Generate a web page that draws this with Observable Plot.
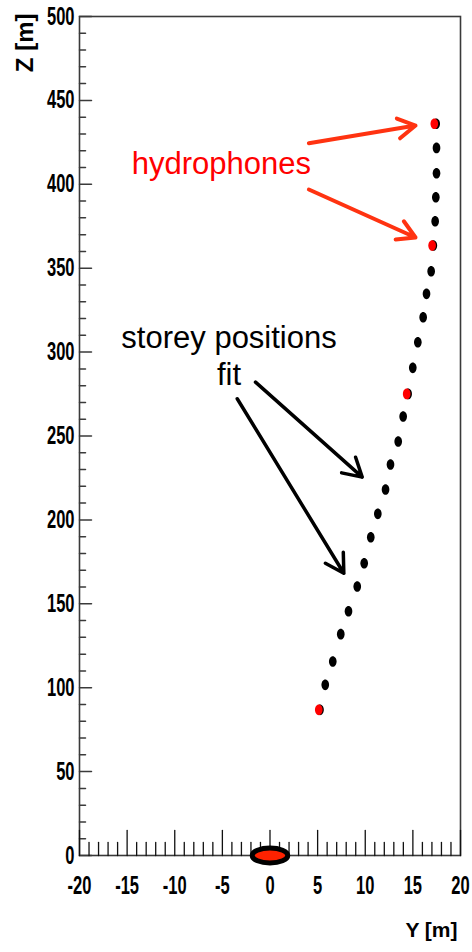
<!DOCTYPE html>
<html>
<head>
<meta charset="utf-8">
<script src="https://cdn.jsdelivr.net/npm/d3@7"></script>
<script src="https://cdn.jsdelivr.net/npm/@observablehq/plot@0.6"></script>
<style>
  html, body { margin: 0; padding: 0; background: #fff; }
  #chart svg { display: block; }
</style>
</head>
<body>
<div id="chart"></div>
<script>
// Line shape: fitted storey positions (Y, Z in metres), bottom to top
const storeyY = [5.25, 5.80, 6.59, 7.43, 8.24, 9.16, 9.89, 10.58, 11.32, 12.13, 12.65, 13.46, 13.98,
                 14.50, 14.99, 15.52, 16.08, 16.43, 16.92, 17.15, 17.34, 17.41, 17.48, 17.48, 17.45];
const storeyZ = [86.8, 101.7, 115.6, 131.9, 145.6, 160.3, 174.2, 189.7, 203.6, 218.1, 233.0, 246.7, 261.6,
                 275.1, 290.6, 305.9, 320.8, 334.7, 348.2, 363.5, 378.0, 392.3, 406.6, 421.7, 436.1];

// Measured hydrophone positions
const hydroY = [5.12, 14.35, 17.02, 17.25];
const hydroZ = [86.8, 275.1, 363.5, 436.1];

// Line anchor on the sea bed
const anchorY = [0];
const anchorZ = [0];

// Axis ticks
const zMajor = d3.range(0, 501, 50);
const zMinor = d3.range(0, 501, 10).filter(v => v % 50 !== 0);
const yMajor = d3.range(-20, 21, 5);
const yMinor = d3.range(-20, 21, 1).filter(v => v % 5 !== 0);

// Annotations
const hydroText = ["hydrophones"];
const hydroTextY = [-5.1];
const hydroTextZ = [412.3];
const hydroArrowY1 = [4.08, 4.08];
const hydroArrowZ1 = [424.5, 396.9];
const hydroArrowY2 = [15.28, 15.28];
const hydroArrowZ2 = [435.0, 368.3];

const fitText = ["storey positions\nfit"];
const fitTextY = [-4.3];
const fitTextZ = [318.2];
const fitArrowY1 = [-1.52, -3.44];
const fitArrowZ1 = [282.1, 272.2];
const fitArrowY2 = [9.68, 7.75];
const fitArrowZ2 = [225.5, 168.2];

// Elliptical dot symbol; aspect = horizontal / vertical radius
const ellipse = aspect => ({
  draw(context, size) {
    const ry = Math.sqrt(size / Math.PI);
    const rx = ry * aspect;
    const k = 0.5523;
    context.moveTo(rx, 0);
    context.bezierCurveTo(rx, k * ry, k * rx, ry, 0, ry);
    context.bezierCurveTo(-k * rx, ry, -rx, k * ry, -rx, 0);
    context.bezierCurveTo(-rx, -k * ry, -k * rx, -ry, 0, -ry);
    context.bezierCurveTo(k * rx, -ry, rx, -k * ry, rx, 0);
    context.closePath();
  }
});

// Straight tick segment pointing up from its origin
const tickShape = {
  draw(context, l) {
    context.moveTo(0, 0);
    context.lineTo(0, -l);
  }
};

const textFont = "'Liberation Sans', Arial, Helvetica, sans-serif";
const axisColor = "#3a3a3a";

const chart = Plot.plot({
  width: 472,
  height: 952,
  marginLeft: 79,
  marginRight: 12,
  marginTop: 16,
  marginBottom: 97,
  style: {fontFamily: textFont, fontWeight: "bold", fontSize: "25px", color: "#000", background: "#fff"},
  x: {domain: [-20, 20]},
  y: {domain: [0, 500]},
  marks: [
    Plot.frame({stroke: axisColor, strokeWidth: 1.6}),

    // Z axis ticks (inward)
    Plot.vector(zMajor, {y: d => d, frameAnchor: "left", rotate: 90, length: 12, anchor: "start",
                         shape: tickShape, stroke: axisColor, strokeWidth: 1.5}),
    Plot.vector(zMinor, {y: d => d, frameAnchor: "left", rotate: 90, length: 6, anchor: "start",
                         shape: tickShape, stroke: axisColor, strokeWidth: 1.5}),
    // Y axis ticks (inward)
    Plot.vector(yMajor, {x: d => d, frameAnchor: "bottom", length: 25, anchor: "start",
                         shape: tickShape, stroke: "#111", strokeWidth: 1.3}),
    Plot.vector(yMinor, {x: d => d, frameAnchor: "bottom", length: 13, anchor: "start",
                         shape: tickShape, stroke: "#111", strokeWidth: 1.3}),

    Plot.axisY({ticks: zMajor, tickSize: 0, tickPadding: 5, tickFormat: d => String(d), label: null,
                fontSize: 25, fontWeight: "bold", fill: "#000"}),
    Plot.axisX({ticks: yMajor, tickSize: 0, tickPadding: 21, tickFormat: d => String(d), label: null,
                fontSize: 25, fontWeight: "bold", fill: "#000"}),

    // Axis titles
    Plot.text(["Y [m]"], {frameAnchor: "bottom-right", textAnchor: "end", lineAnchor: "bottom",
                          dx: -3, dy: 81, fontSize: 21, fontWeight: "bold", fill: "#000",
                          ariaLabel: "y axis title"}),
    Plot.text(["Z [m]"], {frameAnchor: "top-left", rotate: -90, textAnchor: "end", lineAnchor: "middle",
                          dx: -54, dy: -3, fontSize: 24, fontWeight: "bold", fill: "#000",
                          ariaLabel: "z axis title"}),

    // Storeys and hydrophones
    Plot.dot(storeyY, {x: d => d, y: (d, i) => storeyZ[i], r: 5.3, symbol: ellipse(0.72), fill: "#000"}),
    Plot.dot(hydroY, {x: d => d, y: (d, i) => hydroZ[i], r: 5.3, symbol: ellipse(0.72), fill: "#ff0000"}),

    // Anchor
    Plot.dot(anchorY, {x: d => d, y: (d, i) => anchorZ[i], r: 7.5, symbol: ellipse(2.37),
                       fill: "#ff2200", stroke: "#000", strokeWidth: 5}),

    // Annotations
    Plot.arrow(hydroArrowY1, {x1: d => d, y1: (d, i) => hydroArrowZ1[i],
                              x2: (d, i) => hydroArrowY2[i], y2: (d, i) => hydroArrowZ2[i],
                              stroke: "#ff3311", strokeWidth: 4, headLength: 7.5}),
    Plot.arrow(fitArrowY1, {x1: d => d, y1: (d, i) => fitArrowZ1[i],
                            x2: (d, i) => fitArrowY2[i], y2: (d, i) => fitArrowZ2[i],
                            stroke: "#000", strokeWidth: 3.5, headLength: 9}),
    Plot.text(hydroText, {x: hydroTextY, y: hydroTextZ, textAnchor: "middle", lineAnchor: "middle",
                          fontWeight: "normal", fontSize: 31, fill: "#ff0000"}),
    Plot.text(fitText, {x: fitTextY, y: fitTextZ, textAnchor: "middle", lineAnchor: "top", lineHeight: 1.19,
                        fontWeight: "normal", fontSize: 31, fill: "#000"})
  ]
});

// Axis lettering is a narrow bold face: compress the glyphs horizontally about their anchor
function condense(selector, k) {
  d3.select(chart).selectAll(selector).each(function () {
    const t = this.getAttribute("transform");
    if (t) {
      this.setAttribute("transform", `${t} scale(${k},1)`);
    } else {
      const x = +this.getAttribute("x") || 0;
      const y = +this.getAttribute("y") || 0;
      this.removeAttribute("x");
      this.removeAttribute("y");
      this.setAttribute("transform", `translate(${x},${y}) scale(${k},1)`);
    }
  });
}
condense('g[aria-label="x-axis tick label"] text, g[aria-label="y-axis tick label"] text', 0.66);
condense('g[aria-label="y axis title"] text', 0.8);
condense('g[aria-label="z axis title"] text', 1.05);

document.getElementById("chart").append(chart);
</script>
</body>
</html>
